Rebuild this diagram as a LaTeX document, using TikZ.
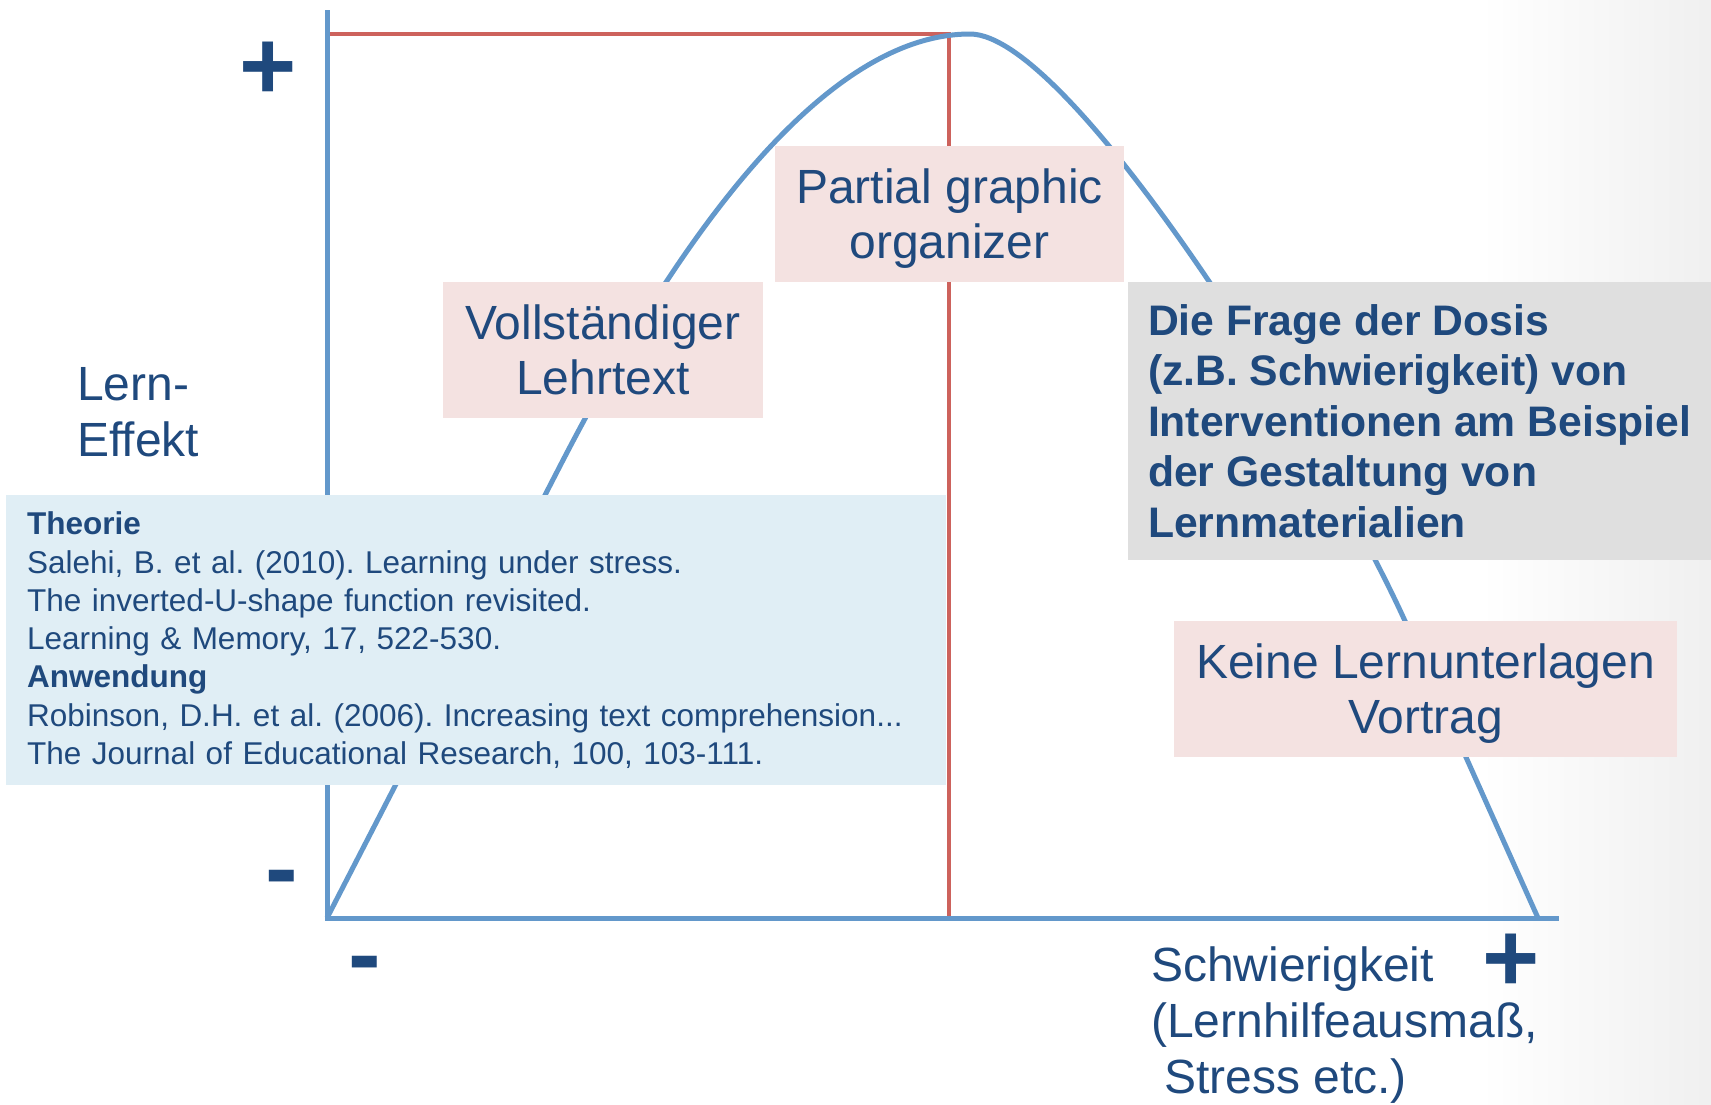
\documentclass[tikz,border=0pt]{standalone}
\usepackage{fontspec}
\setmainfont{Liberation Sans}
\frenchspacing

\definecolor{textblau}{HTML}{1F497D}
\definecolor{linienblau}{HTML}{6398CB}
\definecolor{linienrot}{HTML}{CD625C}
\definecolor{rosa}{HTML}{F4E2E1}
\definecolor{hellblau}{HTML}{E0EEF5}
\definecolor{hellgrau}{HTML}{DFDFDF}

\tikzset{
  achse/.style={linienblau, line width=5pt},
  kurve/.style={linienblau, line width=5pt, line join=round},
  markierung/.style={linienrot, line width=4.5pt},
  kasten/.style={fill=rosa, text=textblau, align=center, inner sep=0pt, text depth=0pt,
    font=\fontsize{48}{55}\selectfont},
  beschriftung/.style={text=textblau, align=left, inner sep=0pt, anchor=north west,
    font=\fontsize{48}{56}\selectfont},
  zeichen/.style={text=textblau, inner sep=0pt, anchor=base west,
    font=\fontsize{98}{98}\selectfont\bfseries},
}

\begin{document}
\begin{tikzpicture}[x=1pt, y=-1pt]
    % Rahmen und Hintergrund
    \useasboundingbox (0,0) rectangle (1711,1104);
    \fill[white] (0,0) rectangle (1711,1104);
    \shade[left color=white, right color=black!6] (1480,0) rectangle (1711,1104);

    % Achsen und Markierung des Optimums
    \coordinate (O) at (327,918);
    \coordinate (yEnde) at (327,10);
    \coordinate (xEnde) at (1559,918);
    \coordinate (rotY) at (327,34);
    \coordinate (optimum) at (949,34);
    \coordinate (rotX) at (949,918);
    \draw[markierung] (rotY) -- (optimum) -- (rotX);
    \draw[achse] (yEnde) -- (O) -- (xEnde);

    % umgekehrte U-Kurve
    \draw[kurve] (O) -- (560,466) .. controls (640,311) and (800,34) .. (970,34)
        .. controls (1070,34) and (1322,439) .. (1405,621) -- (1538,918);

    % Kaesten
    \node[kasten, minimum width=320, minimum height=136] (vollst) at (603,350)
        {Vollständiger\\Lehrtext};
    \node[kasten, minimum width=349, minimum height=136] (partial) at (949.5,214)
        {Partial graphic\\organizer};
    \node[kasten, minimum width=503, minimum height=136] (keine) at (1425.5,689)
        {Keine Lernunterlagen\\Vortrag};
    \node[fill=hellgrau, text=textblau, anchor=north west, align=left, inner sep=0pt,
        minimum width=583, minimum height=278,
        font=\fontsize{42.7}{50.5}\selectfont\bfseries] (dosis) at (1128,282)
        {Die Frage der Dosis\\(z.B. Schwierigkeit) von\\Interventionen am Beispiel\\der Gestaltung von\\Lernmaterialien};
    \node[fill=hellblau, text=textblau, anchor=north west, align=left,
        inner xsep=21pt, inner ysep=0pt, text width=898, minimum height=290,
        font=\fontsize{31.5}{38.3}\selectfont] (literatur) at (6,495)
        {\textbf{Theorie}\\
         Salehi, B. et al. (2010). Learning under stress.\\
         The inverted-U-shape function revisited.\\
         Learning \& Memory, 17, 522-530.\\
         \textbf{Anwendung}\\
         Robinson, D.H. et al. (2006). Increasing text comprehension...\\
         The Journal of Educational Research, 100, 103-111.};

    % Achsenbeschriftung
    \node[beschriftung] (lerneffekt) at (77,367.5) {Lern-\\Effekt};
    \node[beschriftung] (schwierig) at (1151,947)
        {Schwierigkeit\\(Lernhilfeausmaß,\\\hspace*{13pt}Stress etc.)};
    \node[zeichen] (yPlus) at (239.5,99) {+};
    \node[zeichen] (yMinus) at (265,901.5) {-};
    \node[zeichen] (xMinus) at (348,987) {-};
    \node[zeichen] (xPlus) at (1482.5,991.5) {+};
\end{tikzpicture}
\end{document}
